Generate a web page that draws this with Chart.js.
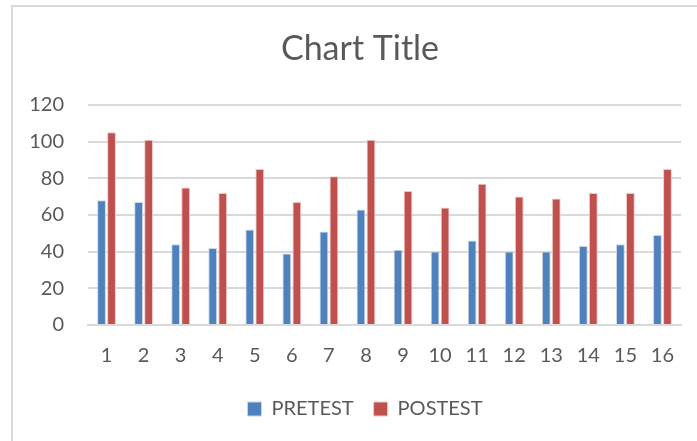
<!DOCTYPE html>
<html>
<head>
<meta charset="utf-8">
<script src="https://cdn.jsdelivr.net/npm/chart.js@4"></script>
<style>
  body { margin: 0; background: #fff; }
  #marco {
    position: absolute; left: 11px; top: 5px;
    width: 686px; height: 436px;
    border-left: 2px solid #d9d9d9; border-top: 2px solid #d9d9d9;
  }
</style>
</head>
<body>
<div id="marco"><canvas id="grafico"></canvas></div>
<script>
const categorias = ['1','2','3','4','5','6','7','8','9','10','11','12','13','14','15','16'];
const pretest  = [68, 67, 44, 42, 52, 39, 51, 63, 41, 40, 46, 40, 40, 43, 44, 49];
const postest  = [105, 101, 75, 72, 85, 67, 81, 101, 73, 64, 77, 70, 69, 72, 72, 85];
const ticksY = [0, 20, 40, 60, 80, 100, 120];

const canvas = document.getElementById('grafico');
canvas.width = 684;
canvas.height = 434;
canvas.style.width = '684px';
canvas.style.height = '434px';

const fuente = 'Lato, "Liberation Sans", sans-serif';
const gris = '#595959';

// en Excel el titulo y la leyenda quedan centrados algo a la derecha
const moverCajas = {
  id: 'moverCajas',
  afterLayout(chart) {
    chart.legend.left += 18; chart.legend.right += 18;
    chart.titleBlock.left += 13; chart.titleBlock.right += 13;
  }
};

new Chart(canvas, {
  type: 'bar',
  data: {
    labels: categorias,
    datasets: [
      { label: 'PRETEST', data: pretest, backgroundColor: '#4f81bd', borderColor: '#c9d6ea', borderWidth: 1 },
      { label: 'POSTEST', data: postest, backgroundColor: '#c0504d', borderColor: '#ecc8c7', borderWidth: 1 }
    ]
  },
  options: {
    responsive: false,
    animation: false,
    layout: { padding: { left: 0, right: 16, top: 0, bottom: 12 } },
    datasets: { bar: { categoryPercentage: 0.54, barPercentage: 0.88 } },
    plugins: {
      title: {
        display: true, text: 'Chart Title', color: gris,
        font: { family: fuente, size: 34, weight: 'normal' },
        padding: { top: 22, bottom: 35 }
      },
      legend: {
        position: 'bottom',
        labels: {
          color: gris, font: { family: fuente, size: 20 },
          boxWidth: 14, boxHeight: 14, padding: 20
        }
      },
      tooltip: { enabled: false }
    },
    scales: {
      x: {
        grid: { display: false },
        border: { color: '#d9d9d9', width: 2 },
        ticks: { color: gris, font: { family: fuente, size: 20 }, padding: 11 }
      },
      y: {
        min: 0, max: 120,
        afterBuildTicks: eje => { eje.ticks = ticksY.map(v => ({ value: v })); },
        afterFit: eje => { eje.width = 75; },
        grid: { color: '#d9d9d9', lineWidth: 2, drawTicks: false },
        border: { display: false },
        ticks: { color: gris, font: { family: fuente, size: 20 }, padding: 24 }
      }
    }
  },
  plugins: [moverCajas]
});
</script>
</body>
</html>
